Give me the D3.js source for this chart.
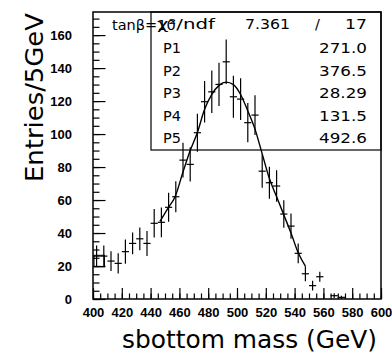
<!DOCTYPE html>
<html>
<head>
<meta charset="utf-8">
<script src="https://cdn.jsdelivr.net/npm/d3@7"></script>
<style>
	body { margin: 0; background: #fff; }
	svg { display: block; }
	.tick text { font-family: "Liberation Sans", Arial, sans-serif; font-weight: bold; font-size: 13px; fill: #000; }
	.tick line { stroke: #000; stroke-width: 1.2; }
	.bigText { font-family: "DejaVu Sans", sans-serif; fill: #000; }
	.statText { font-family: "DejaVu Sans", sans-serif; font-size: 14.5px; fill: #000; }
</style>
</head>
<body>
<div id="chart"></div>
<script>

/**************************************************
 * 	DATA										  *
 **************************************************/

// histogram: 5 GeV bins from 400 to 600 (bin low edges)
var binLow = [400,405,410,415,420,425,430,435,440,445,
	450,455,460,465,470,475,480,485,490,495,
	500,505,510,515,520,525,530,535,540,545,
	550,555,560,565,570,575,580,585,590,595];

var binValue = [26,26,23,21.6,28.7,33.7,36.5,33.7,45.9,46.5,
	55.6,62,84.2,81.6,100.8,119.6,125.6,130.1,143.8,122.6,
	121.2,106.9,111.5,77.5,70.5,68.5,51.5,44.2,27.7,15.3,
	8.1,13.5,0,2,1,0,0,0,0,0];

var binError = [6.5,6.5,6,6.2,7.3,6.6,6.9,7.6,8.6,9,
	8.8,9.4,10.5,10.4,11.5,12.6,12.9,13.1,13.5,12.7,
	12.7,11.9,12.1,10.1,9.7,9.5,8.3,7.6,6,4.5,
	3,3,0,1.5,1,0,0,0,0,0];

// fitted curve
var fitMass = [446.5,452,457,462.5,467.5,472.5,477.5,482.5,487.5,492.5,
	497.5,502.5,507.5,512.5,517.5,522.5,527.5,532.5,537.5,542.5,547.5];
var fitValue = [47,55,62,77,90,101,115,124,129.5,131.5,
	130,124,114,103,88,73,62,51,40,28,20];

// stray box near first bin [mass low, mass high, value low, value high]
var strayBox = [400.7, 408, 19.5, 26.5];

// stats box
var paramNames = ["P1","P2","P3","P4","P5"];
var paramValues = ["271.0","376.5","28.29","131.5","492.6"];
var chi2 = "7.361", ndf = "17";
var titleText = "tan\u03b2=10";

// axis ticks
var xMajor = d3.range(400, 601, 20),
	xMinor = d3.range(400, 601, 5),
	yMajor = d3.range(0, 161, 20),
	yMinor = d3.range(0, 171, 5);


/**************************************************
 * 	INIT CHART									  *
 **************************************************/

var W = 392, H = 355;
var frame = { left: 93, right: 381, top: 12, bottom: 299 };

var svg = d3.select('#chart').append('svg')
	.attr("width", W)
	.attr("height", H);

var xScale = d3.scaleLinear()
	.domain([400, 600])
	.range([frame.left, frame.right]);

var yScale = d3.scaleLinear()
	.domain([0, 174])
	.range([frame.bottom, frame.top]);


//************ AXES ************

// minor ticks first, no labels
svg.append('g')
	.attr('transform', 'translate(0,' + frame.bottom + ')')
	.call(d3.axisBottom(xScale).tickValues(xMinor).tickSize(-5.5).tickFormat(''))
	.call(function(g) { g.select('.domain').remove(); });
svg.append('g')
	.attr('transform', 'translate(' + frame.left + ',0)')
	.call(d3.axisLeft(yScale).tickValues(yMinor).tickSize(-6.5).tickFormat(''))
	.call(function(g) { g.select('.domain').remove(); });

// major ticks with labels
svg.append('g')
	.attr('transform', 'translate(0,' + frame.bottom + ')')
	.call(d3.axisBottom(xScale).tickValues(xMajor).tickSize(-11).tickPadding(9).tickFormat(d3.format('d')))
	.call(function(g) { g.select('.domain').remove(); });
svg.append('g')
	.attr('transform', 'translate(' + frame.left + ',0)')
	.call(d3.axisLeft(yScale).tickValues(yMajor).tickSize(-12.5).tickPadding(21).tickFormat(d3.format('d')))
	.call(function(g) { g.select('.domain').remove(); });

// frame
svg.append('rect')
	.attr('x', frame.left).attr('y', frame.top)
	.attr('width', frame.right - frame.left)
	.attr('height', frame.bottom - frame.top)
	.attr('fill', 'none').attr('stroke', '#000').attr('stroke-width', 1.5);

// axis titles
svg.append('text')
	.attr('class', 'bigText')
	.attr('x', 122).attr('y', 348)
	.attr('font-size', 24)
	.attr('textLength', 255).attr('lengthAdjust', 'spacingAndGlyphs')
	.text('sbottom mass (GeV)');

svg.append('text')
	.attr('class', 'bigText')
	.attr('transform', 'translate(43,182) rotate(-90)')
	.attr('font-size', 24)
	.attr('textLength', 169).attr('lengthAdjust', 'spacingAndGlyphs')
	.text('Entries/5GeV');


//************ DATA POINTS ************

var bins = binLow.map(function(d, i) {
	return { lo: d, hi: d + 5, v: binValue[i], e: binError[i] };
}).filter(function(d) { return d.v > 0; });

var pts = svg.append('g').attr('stroke', '#000').attr('stroke-width', 1.2);

pts.selectAll('.hbar').data(bins).enter()
	.append('line').attr('class', 'hbar')
	.attr('x1', function(d) { return xScale(d.lo); })
	.attr('x2', function(d) { return xScale(d.hi); })
	.attr('y1', function(d) { return yScale(d.v); })
	.attr('y2', function(d) { return yScale(d.v); });

pts.selectAll('.vbar').data(bins).enter()
	.append('line').attr('class', 'vbar')
	.attr('x1', function(d) { return xScale(d.lo + 2.5); })
	.attr('x2', function(d) { return xScale(d.lo + 2.5); })
	.attr('y1', function(d) { return yScale(d.v - d.e); })
	.attr('y2', function(d) { return yScale(d.v + d.e); });

svg.append('rect')
	.attr('x', xScale(strayBox[0])).attr('y', yScale(strayBox[3]))
	.attr('width', xScale(strayBox[1]) - xScale(strayBox[0]))
	.attr('height', yScale(strayBox[2]) - yScale(strayBox[3]))
	.attr('fill', 'none').attr('stroke', '#000').attr('stroke-width', 1);

// fit curve
var fitLine = d3.line()
	.x(function(d, i) { return xScale(fitMass[i]); })
	.y(function(d) { return yScale(d); })
	.curve(d3.curveMonotoneX);

svg.append('path')
	.attr('d', fitLine(fitValue))
	.attr('fill', 'none').attr('stroke', '#000').attr('stroke-width', 1.4);


//************ STATS BOX ************

var box = { left: 151, bottom: 150 };

svg.append('rect')
	.attr('x', box.left).attr('y', frame.top)
	.attr('width', frame.right - box.left)
	.attr('height', box.bottom - frame.top)
	.attr('fill', 'none').attr('stroke', '#000').attr('stroke-width', 1.2);

// title sits under the stats header, overlapping it as in the original
svg.append('text').attr('class', 'statText')
	.attr('x', 112).attr('y', 30).attr('font-size', 16)
	.text(titleText);

svg.append('text').attr('class', 'statText')
	.attr('x', 157).attr('y', 28.5)
	.attr('textLength', 58).attr('lengthAdjust', 'spacingAndGlyphs')
	.text('\u03c7\u00b2/ndf');
svg.append('text').attr('class', 'statText')
	.attr('x', 290).attr('y', 28.5).attr('text-anchor', 'end')
	.attr('textLength', 45).attr('lengthAdjust', 'spacingAndGlyphs')
	.text(chi2);
svg.append('text').attr('class', 'statText')
	.attr('x', 315).attr('y', 28.5)
	.text('/');
svg.append('text').attr('class', 'statText')
	.attr('x', 367).attr('y', 28.5).attr('text-anchor', 'end')
	.attr('textLength', 22).attr('lengthAdjust', 'spacingAndGlyphs')
	.text(ndf);

var rows = svg.selectAll('.prow').data(paramNames).enter()
	.append('g').attr('class', 'prow')
	.attr('transform', function(d, i) { return 'translate(0,' + (53.3 + i * 22.5) + ')'; });

rows.append('text').attr('class', 'statText')
	.attr('x', 163)
	.text(function(d) { return d; });

rows.append('text').attr('class', 'statText')
	.attr('x', 367).attr('text-anchor', 'end')
	.attr('textLength', 48).attr('lengthAdjust', 'spacingAndGlyphs')
	.text(function(d, i) { return paramValues[i]; });

</script>
</body>
</html>
